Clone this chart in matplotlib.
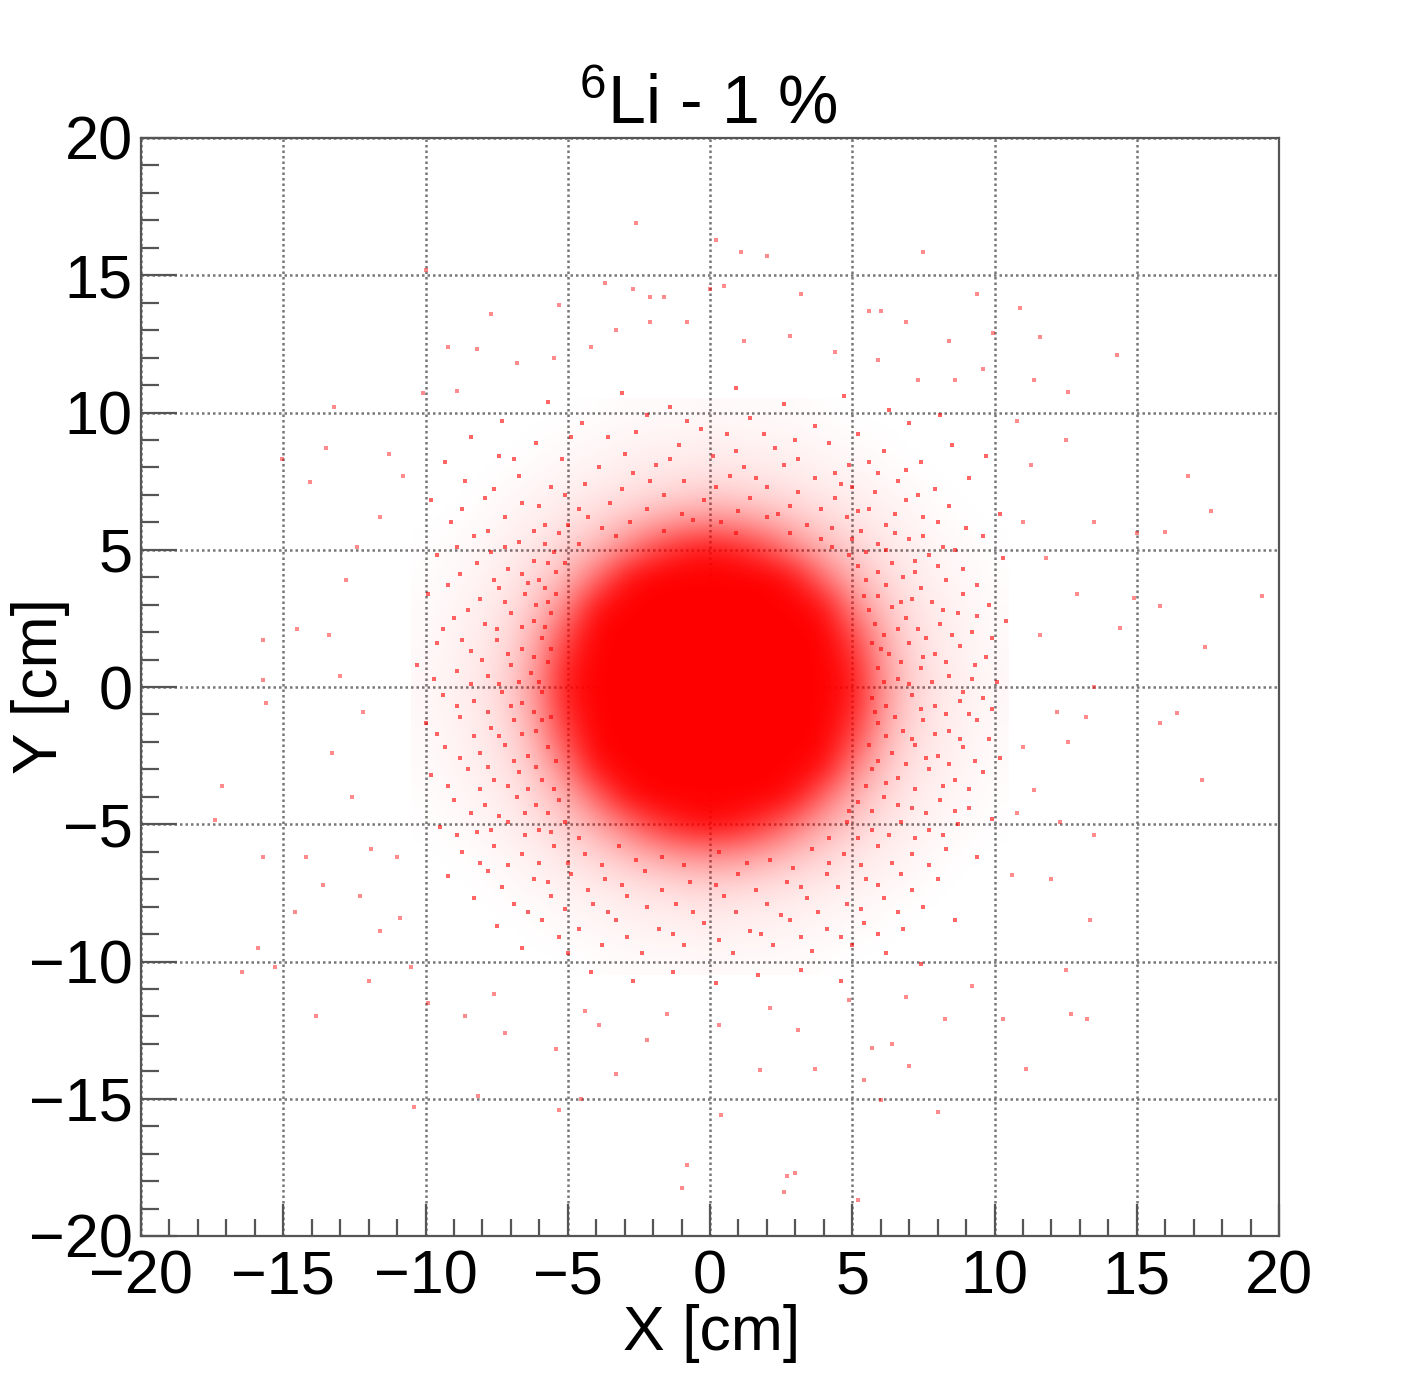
import numpy as np
import matplotlib
matplotlib.use("Agg")
import matplotlib.pyplot as plt
from matplotlib.colors import LinearSegmentedColormap
from matplotlib.ticker import MultipleLocator

plt.rcParams['font.family'] = ['Liberation Sans', 'DejaVu Sans']
plt.rcParams['mathtext.default'] = 'regular'

# how much of each 1 cm cell is red (%)
# rows go from y = 10 down to y = -10, columns from x = -10 to x = 10
coverage = [
[0,0,0,0,0,0,1,2,2,2,3,2,2,2,1,0,0,0,0,0,0],
[0,0,0,0,1,2,3,4,5,5,6,5,5,4,3,2,1,0,0,0,0],
[0,0,0,1,2,4,5,7,8,9,10,9,8,7,5,4,2,1,0,0,0],
[0,0,1,3,5,7,9,12,15,18,20,18,15,12,9,7,5,3,1,0,0],
[0,1,2,5,7,11,17,25,34,42,45,42,34,25,17,11,7,5,2,1,0],
[1,2,4,7,11,20,30,48,70,85,92,85,70,48,30,20,11,7,4,2,1],
[1,3,5,9,17,30,55,90,100,100,100,100,100,90,55,30,17,9,5,3,1],
[2,4,7,12,25,48,90,100,100,100,100,100,100,100,90,48,25,12,7,4,2],
[2,5,8,15,34,70,100,100,100,100,100,100,100,100,100,70,34,15,8,5,2],
[3,5,9,18,42,85,100,100,100,100,100,100,100,100,100,85,42,18,9,5,3],
[3,6,10,20,45,92,100,100,100,100,100,100,100,100,100,92,45,20,10,6,3],
[3,5,9,18,42,85,100,100,100,100,100,100,100,100,100,85,42,18,9,5,3],
[2,5,8,15,34,72,100,100,100,100,100,100,100,100,100,72,34,15,8,5,2],
[2,4,7,12,26,52,92,100,100,100,100,100,100,100,92,50,26,12,7,4,2],
[1,3,5,9,18,32,60,92,100,100,100,100,100,92,58,32,18,9,5,3,1],
[1,2,4,7,12,22,34,54,76,90,96,90,76,54,34,22,12,7,4,2,1],
[0,1,2,5,7,12,19,28,38,47,50,47,38,28,19,12,7,5,2,1,0],
[0,0,1,3,5,7,10,13,17,20,22,20,17,13,10,7,5,3,1,0,0],
[0,0,0,1,2,4,5,7,8,9,11,9,8,7,5,4,2,1,0,0,0],
[0,0,0,0,1,2,3,4,5,5,6,5,5,4,3,2,1,0,0,0,0],
[0,0,0,0,0,0,1,2,2,2,3,2,2,2,1,0,0,0,0,0,0],
]

# single hits far away from the beam spot
outer = [(-2.6,16.9),(0.2,16.3),(1.1,15.85),(2.0,15.7),(7.5,15.85),(-10.0,15.2),(-3.7,14.7),(-2.7,14.5),(0.0,14.5),
(0.5,14.6),(-2.1,14.2),(-1.6,14.2),(9.4,14.3),(10.9,13.8),(-7.7,13.6),(-5.3,13.9),(-2.1,13.3),(3.2,14.3),(5.6,13.7),
(6.0,13.7),(6.9,13.3),(11.6,12.75),(9.95,12.9),(-9.2,12.4),(-8.2,12.3),(2.8,12.8),(8.4,12.6),(14.3,12.1),(-4.2,12.4),
(11.4,11.2),(12.6,10.75),(-10.1,10.7),(-13.2,10.2),(-13.5,8.7),(-11.3,8.5),(12.5,9.0),(16.8,7.7),(17.6,6.4),(13.5,6.0),
(-14.05,7.45),(-15.05,8.3),(15.0,5.6),(16.0,5.65),(19.4,3.3),(14.9,3.25),(15.8,2.95),(17.4,1.45),(14.4,2.15),(13.5,0.0),
(15.8,-1.3),(16.4,-0.95),(17.3,-3.4),(-15.7,1.7),(-15.7,0.25),(-15.6,-0.6),(-17.15,-3.6),(-17.4,-4.85),(-15.7,-6.2),
(-14.2,-6.2),(-13.6,-7.2),(-14.6,-8.2),(-15.9,-9.5),(-16.45,-10.4),(-15.3,-10.2),(-13.85,-12.0),(-12.0,-10.7),
(-10.5,-10.2),(-7.6,-11.2),(-8.6,-12.0),(13.25,-12.1),(12.7,-11.9),(11.1,-13.9),(10.3,-12.1),(12.5,-10.3),(13.35,-8.5),
(12.0,-7.0),(10.6,-6.85),(13.5,-5.4),(11.4,-3.75),(-10.4,-15.3),(-8.15,-14.9),(-5.3,-15.4),(-4.55,-15.0),(-3.3,-14.1),
(0.4,-15.6),(-0.8,-17.4),(-1.0,-18.25),(2.6,-18.4),(2.7,-17.8),(3.0,-17.7),(5.2,-18.7),(6.0,-15.05),(8.0,-15.5),
(7.0,-13.8),(5.4,-14.3),(1.75,-13.95),(3.7,-13.9),(6.4,-13.0),(5.7,-13.15),(-2.2,-12.85),(-3.9,-12.3),(4.9,-11.4),
(8.25,-12.1),(-12.8,3.9),(-13.4,1.9),(-14.5,2.1),(-13.0,0.4),(-12.2,-0.9),(-13.3,-2.4),(-12.6,-4.0),(-11.9,-5.9),
(-12.3,-7.6),(-11.0,-6.2),(-11.6,-8.9),(-10.9,-8.4),(11.0,6.0),(11.8,4.7),(12.9,3.4),(11.6,1.9),(12.2,-0.9),(11.0,-2.2),
(12.6,-2.0),(13.2,-1.1),(10.8,-4.6),(12.3,-4.9),(11.3,8.1),(10.8,9.7),(9.6,11.6),(8.6,11.2),(-8.9,10.8),(-6.8,11.8),
(-5.5,12.0),(-3.3,13.0),(-0.8,13.3),(1.2,12.6),(4.4,12.2),(5.9,11.9),(7.3,11.2),(-11.6,6.2),(-12.4,5.1),(-10.8,7.7),
(-9.9,-11.5),(-7.2,-12.6),(-5.4,-13.2),(-4.4,-11.8),(-1.5,-11.9),(0.3,-12.3),(2.1,-11.7),(3.1,-12.5),(6.9,-11.3),(9.2,-10.9)]

# speckle of the halo, read row by row from the top down
speckle = [(-5.7,10.4),(-3.1,10.7),(-1.4,10.2),(0.9,10.9),(2.6,10.3),(4.7,10.6),(6.3,10.1),(8.1,9.9),(-7.3,9.7),(-4.5,9.6),
(-2.2,9.9),(-0.3,9.4),(1.4,9.8),(3.7,9.5),(5.2,9.2),(7.0,9.6),(-8.4,9.1),(-6.1,8.9),(-3.6,9.1),(-1.1,8.8),(0.6,9.2),(2.3,8.7),
(4.2,8.9),(6.1,8.6),(8.5,8.8),(9.7,8.4),(-9.3,8.2),(-7.4,8.4),(-5.2,8.3),(-3.0,8.5),(-1.9,8.1),(0.1,8.4),(1.2,8.0),(3.1,8.3),
(4.9,8.1),(5.9,7.8),(7.4,8.2),(-8.6,7.5),(-6.7,7.7),(-4.4,7.4),(-2.7,7.8),(-0.9,7.5),(0.7,7.7),(2.0,7.3),(3.7,7.6),(5.0,7.3),
(6.6,7.5),(7.9,7.2),(9.1,7.6),(-9.8,6.8),(-7.9,6.9),(-6.0,6.6),(-5.1,7.0),(-3.5,6.7),(-1.6,7.0),(-0.2,6.8),(1.4,6.9),(2.8,6.6),
(4.4,6.9),(5.6,6.5),(6.9,6.8),(8.4,6.6),(10.2,6.3),(-9.1,6.0),(-7.2,6.2),(-5.8,5.9),(-4.3,6.2),(-2.8,6.0),(-1.0,6.3),(0.4,6.0),
(2.0,6.2),(3.4,5.9),(4.8,6.2),(6.2,5.9),(7.5,6.2),(9.0,5.8),(-8.3,5.5),(-6.7,5.3),(-5.3,5.6),(-4.6,5.2),(-3.3,5.5),(3.9,5.4),
(5.3,5.7),(5.9,5.2),(7.0,5.4),(8.2,5.1),(9.6,5.5),(-9.6,4.8),(-7.7,4.9),(-6.2,4.6),(-5.5,4.9),(4.9,4.8),(6.4,4.5),(7.7,4.8),
(8.9,4.3),(10.3,4.7),(-8.8,4.1),(-7.1,4.3),(-6.0,3.9),(-5.4,4.2),(5.5,3.9),(6.8,4.0),(7.4,3.6),(8.3,3.9),(9.4,3.7),(-9.9,3.4),
(-8.1,3.2),(-7.4,3.6),(-6.5,3.4),(-5.7,3.1),(5.9,3.3),(6.4,2.9),(7.8,3.1),(8.7,2.7),(9.8,3.0),(-9.0,2.5),(-7.9,2.3),(-7.0,2.7),
(-6.2,2.4),(-5.6,2.7),(5.8,2.3),(6.9,2.5),(7.3,2.1),(8.1,2.3),(9.2,2.0),(10.4,2.4),(-9.6,1.6),(-8.4,1.3),(-7.5,1.7),(-6.6,1.4),
(-5.9,1.8),(5.7,1.6),(6.3,1.2),(7.0,1.6),(7.9,1.2),(8.8,1.5),(9.7,1.1),(-10.3,0.8),(-8.9,0.6),(-7.8,0.4),(-7.0,0.8),(-6.3,0.5),
(-5.7,0.9),(5.9,0.7),(6.6,0.3),(7.4,0.7),(8.4,0.4),(9.3,0.8),(10.1,0.2),(-9.4,-0.3),(-8.3,-0.5),(-7.3,-0.2),(-6.6,-0.6),(-5.9,-0.2),
(5.7,-0.4),(6.2,-0.7),(7.1,-0.3),(7.9,-0.7),(8.9,-0.2),(9.9,-0.8),(-10.0,-1.3),(-8.8,-1.1),(-7.7,-1.5),(-6.9,-1.2),(-6.1,-1.6),
(5.9,-1.3),(6.8,-1.6),(7.5,-1.2),(8.4,-1.6),(9.4,-1.2),(-9.3,-2.2),(-8.1,-2.4),(-7.2,-2.1),(-6.4,-2.5),(-5.7,-2.2),(5.6,-2.1),
(6.4,-2.4),(7.2,-2.1),(8.0,-2.5),(8.9,-2.2),(10.2,-2.6),(-9.8,-3.2),(-8.5,-3.0),(-7.6,-3.4),(-6.7,-3.1),(-5.9,-3.4),(5.7,-3.0),
(6.6,-3.3),(7.7,-3.0),(8.6,-3.4),(9.6,-3.1),(-9.0,-4.1),(-7.9,-4.3),(-6.8,-4.0),(-6.1,-4.3),(-5.3,-4.1),(5.2,-4.2),(6.1,-4.0),
(7.1,-4.4),(8.1,-4.1),(9.1,-4.4),(-9.5,-5.1),(-8.2,-5.3),(-7.1,-4.9),(-6.0,-5.2),(-5.1,-4.9),(4.8,-4.9),(5.7,-5.2),(6.7,-4.9),
(7.7,-5.2),(8.7,-5.0),(9.9,-4.8),(-8.7,-6.0),(-7.6,-5.8),(-6.6,-6.1),(-5.5,-5.8),(-4.4,-6.1),(-3.2,-5.8),(-1.7,-6.2),(0.3,-6.0),
(2.1,-6.3),(3.6,-5.9),(4.7,-6.1),(5.9,-5.8),(7.1,-6.1),(8.3,-5.9),(9.4,-6.2),(-9.2,-6.9),(-7.8,-6.7),(-6.2,-7.0),(-4.9,-6.8),
(-3.7,-7.0),(-2.3,-6.7),(-0.7,-7.1),(1.0,-6.8),(2.7,-7.1),(4.1,-6.8),(5.5,-7.0),(6.7,-6.8),(8.0,-7.0),(-8.3,-7.7),(-6.9,-7.9),
(-5.6,-7.6),(-4.1,-7.9),(-2.9,-7.6),(-1.2,-7.9),(0.5,-7.6),(2.0,-7.9),(3.4,-7.7),(4.8,-7.9),(6.1,-7.7),(7.5,-8.0),(-7.5,-8.7),
(-5.9,-8.5),(-4.6,-8.8),(-3.3,-8.5),(-1.8,-8.8),(-0.2,-8.6),(1.4,-8.9),(2.8,-8.5),(4.1,-8.8),(5.4,-8.6),(6.8,-8.8),(8.6,-8.5),
(-6.6,-9.5),(-5.0,-9.7),(-3.8,-9.4),(-2.4,-9.7),(-0.9,-9.4),(0.8,-9.7),(2.2,-9.4),(3.6,-9.6),(5.0,-9.4),(6.2,-9.7),(-4.2,-10.4),
(-2.7,-10.7),(-1.3,-10.4),(0.2,-10.8),(1.7,-10.5),(3.2,-10.3),(4.6,-10.7),(7.4,-10.1)]

# second pass over the halo for the hits the first pass skipped
speckle2 = [(-4.9,9.1),(-2.6,9.3),(-0.8,9.7),(1.9,9.2),(3.0,9.0),(5.6,8.2),(-6.9,8.3),(-3.9,8.0),(-1.4,8.3),(0.9,8.6),(2.6,8.1),
(4.4,7.8),(6.9,7.9),(-7.6,7.2),(-5.6,7.3),(-3.1,7.2),(-2.1,7.5),(0.2,7.3),(1.6,7.6),(3.1,7.1),(4.6,7.4),(5.8,7.1),(7.3,7.0),
(-8.7,6.5),(-6.6,6.7),(-4.6,6.5),(-2.2,6.5),(-0.6,6.1),(1.0,6.4),(2.4,6.3),(3.9,6.5),(5.2,6.4),(6.5,6.3),(8.0,6.0),(-7.8,5.7),
(-6.2,5.7),(-5.0,5.9),(-3.8,5.8),(-1.6,5.7),(0.9,5.6),(2.8,5.6),(4.3,5.8),(5.0,5.4),(6.5,5.6),(7.5,5.5),(-8.9,5.1),(-7.2,5.1),
(-5.8,5.2),(-5.1,4.5),(4.3,5.1),(5.5,4.9),(6.2,5.0),(7.2,4.6),(8.6,5.0),(-8.2,4.5),(-6.6,4.1),(-5.7,4.5),(5.2,4.4),(5.9,4.2),
(7.2,4.2),(8.0,4.4),(-9.2,3.7),(-7.6,3.9),(-6.4,3.8),(-5.8,3.6),(5.4,3.3),(6.2,3.7),(7.1,3.2),(8.9,3.4),(-8.5,2.8),(-7.2,3.1),
(-6.1,3.0),(-5.4,3.4),(5.6,2.8),(6.7,3.1),(8.2,2.8),(9.4,2.6),(-9.4,2.1),(-7.5,2.1),(-6.6,2.2),(-5.8,2.2),(6.1,1.9),(6.6,2.1),
(7.6,1.8),(8.5,1.9),(9.9,1.8),(-8.7,1.7),(-8.0,1.0),(-7.1,1.2),(-6.2,1.1),(-5.6,1.4),(6.0,1.4),(6.7,0.9),(7.5,1.1),(8.3,0.9),
(9.2,0.3),(-9.7,0.3),(-8.4,0.1),(-7.4,0.1),(-6.7,0.2),(-6.0,0.2),(6.1,0.2),(7.0,0.1),(7.8,0.2),(8.8,-0.5),(9.6,-0.4),(-8.9,-0.7),
(-7.8,-0.9),(-7.0,-0.7),(-6.2,-0.9),(-5.6,-1.1),(5.8,-0.9),(6.5,-1.1),(7.4,-0.8),(8.3,-1.0),(9.1,-1.0),(-9.6,-1.7),(-8.3,-1.8),
(-7.4,-1.8),(-6.6,-1.7),(-5.9,-1.2),(6.2,-1.8),(7.1,-1.9),(7.9,-1.7),(8.8,-1.9),(9.8,-1.9),(-8.8,-2.6),(-7.8,-2.9),(-6.9,-2.7),
(-6.1,-2.9),(-5.4,-2.7),(5.9,-2.7),(6.9,-2.8),(7.6,-2.6),(8.4,-2.8),(9.3,-2.7),(-9.2,-3.6),(-8.1,-3.7),(-7.1,-3.6),(-6.4,-3.7),
(-5.5,-3.7),(5.5,-3.6),(6.2,-3.5),(7.2,-3.7),(8.2,-3.6),(9.1,-3.7),(-8.4,-4.6),(-7.4,-4.7),(-6.5,-4.6),(-5.7,-4.6),(4.9,-4.5),
(5.7,-4.5),(6.6,-4.3),(7.6,-4.6),(8.6,-4.5),(-8.9,-5.4),(-7.7,-5.2),(-6.5,-5.4),(-5.6,-5.3),(-4.6,-5.5),(4.2,-5.5),(5.2,-5.5),
(6.3,-5.4),(7.2,-5.5),(8.2,-5.4),(-8.1,-6.4),(-7.1,-6.5),(-6.0,-6.4),(-5.0,-6.4),(-3.8,-6.5),(-2.6,-6.3),(-0.9,-6.5),(1.3,-6.4),
(2.9,-6.6),(4.2,-6.4),(5.3,-6.5),(6.4,-6.4),(7.7,-6.5),(-7.3,-7.3),(-5.7,-7.1),(-4.3,-7.4),(-3.1,-7.2),(-1.7,-7.4),(0.2,-7.2),
(1.6,-7.4),(3.2,-7.3),(4.5,-7.3),(5.9,-7.2),(7.1,-7.4),(-6.4,-8.2),(-5.1,-8.1),(-3.6,-8.2),(-2.2,-8.0),(-0.6,-8.2),(0.9,-8.2),
(2.5,-8.3),(3.8,-8.2),(5.3,-8.1),(6.6,-8.2),(-5.3,-9.1),(-2.9,-9.1),(-1.3,-9.0),(0.3,-9.2),(1.8,-9.0),(3.2,-9.1),(4.6,-9.1),(5.9,-9.0)]

x_ticks = [-20, -15, -10, -5, 0, 5, 10, 15, 20]
y_ticks = [-20, -15, -10, -5, 0, 5, 10, 15, 20]

fig = plt.figure(figsize=(14.2, 13.74), dpi=100)
ax = fig.add_axes([141/1420, 1-1236/1374, (1279-141)/1420, (1236-138)/1374])

red_fade = LinearSegmentedColormap.from_list('red_fade', [(1, 0, 0, 0), (1, 0, 0, 1)])
ax.imshow(np.array(coverage), extent=[-10.5, 10.5, -10.5, 10.5], origin='upper', cmap=red_fade,
          vmin=0, vmax=100, interpolation='bicubic', aspect='auto', zorder=2)

for pts, a in [(outer, 0.45), (speckle, 0.6), (speckle2, 0.6)]:
    px, py = np.array(pts).T
    ax.scatter(px, py, s=8, marker='s', color='#ff0000', alpha=a, linewidths=0, zorder=3)

ax.set_xlim(-20, 20)
ax.set_ylim(-20, 20)
ax.set_xticks(x_ticks)
ax.set_yticks(y_ticks)
ax.xaxis.set_minor_locator(MultipleLocator(1))
ax.yaxis.set_minor_locator(MultipleLocator(1))
ax.grid(True, which='major', color='#777777', linestyle=(0, (1, 1.2)), linewidth=1.8, zorder=1)
ax.set_axisbelow(True)

ax.tick_params(axis='x', which='major', direction='in', length=23, width=1.6, color='#555555', labelsize=44, pad=10)
ax.tick_params(axis='y', which='major', direction='in', length=26, width=1.6, color='#555555', labelsize=44, pad=6)
ax.tick_params(axis='x', which='minor', direction='in', length=12, width=1.6, color='#555555')
ax.tick_params(axis='y', which='minor', direction='in', length=13, width=1.6, color='#555555')
for spine in ax.spines.values():
    spine.set_color('#555555')
    spine.set_linewidth(1.6)

fig.text(708/1420, 1-124/1374, r"$^{6}$Li - 1 %", fontsize=49, ha='center', va='baseline')
fig.text(712/1420, 1-1350/1374, "X [cm]", fontsize=45, ha='center', va='baseline')
fig.text(40/1420, 1-686/1374, "Y [cm]", fontsize=45, ha='center', va='center', rotation=90)

fig.savefig("out.png", dpi=100)
